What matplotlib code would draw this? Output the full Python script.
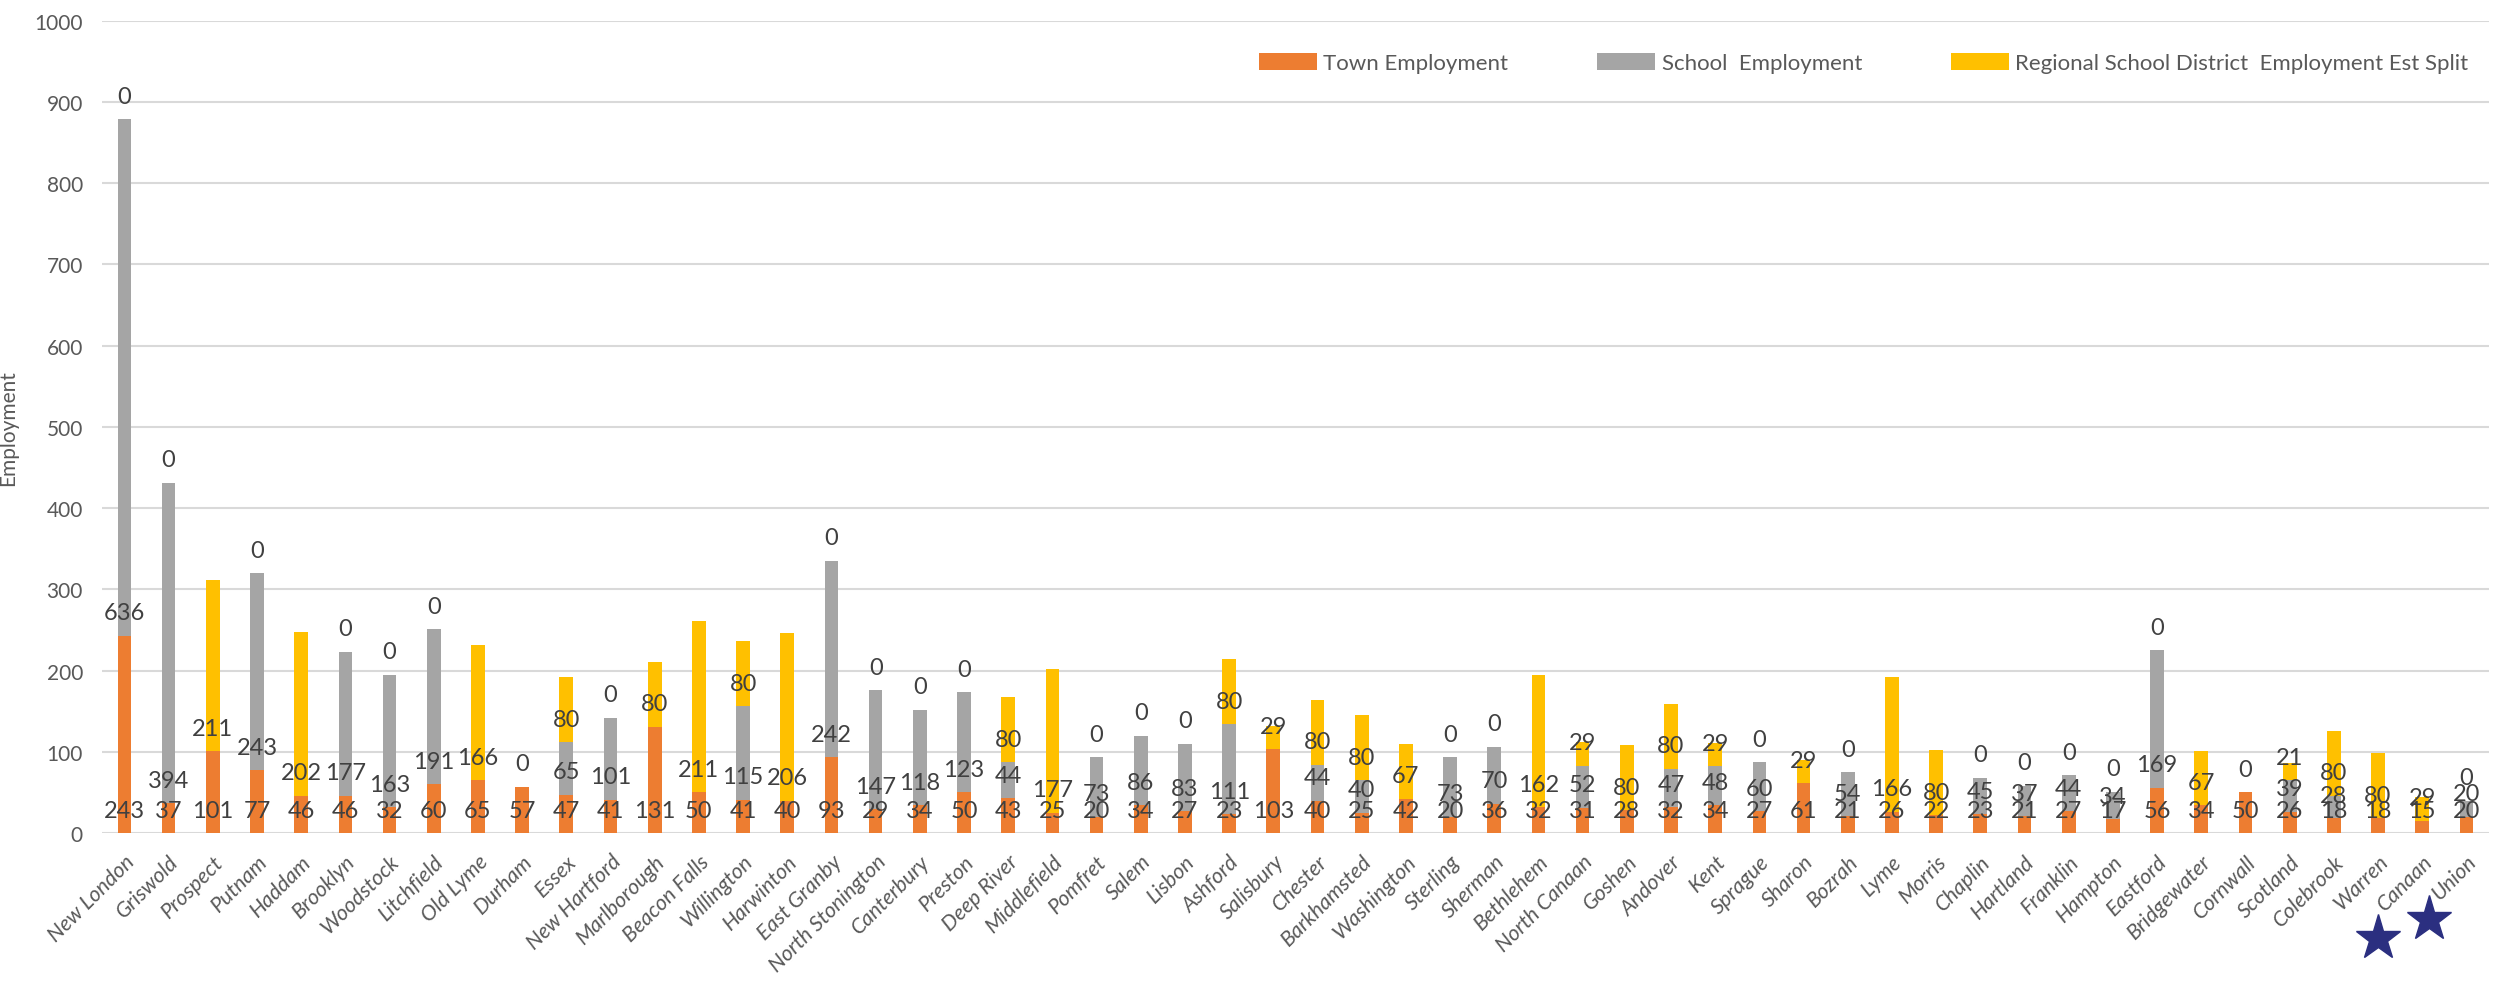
import numpy as np
import matplotlib.pyplot as plt
from matplotlib.transforms import blended_transform_factory

plt.rcParams['font.family'] = ['Lato', 'DejaVu Sans']

towns = ["New London", "Griswold", "Prospect", "Putnam", "Haddam", "Brooklyn",
         "Woodstock", "Litchfield", "Old Lyme", "Durham", "Essex", "New Hartford",
         "Marlborough", "Beacon Falls", "Willington", "Harwinton", "East Granby",
         "North Stonington", "Canterbury", "Preston", "Deep River", "Middlefield",
         "Pomfret", "Salem", "Lisbon", "Ashford", "Salisbury", "Chester",
         "Barkhamsted", "Washington", "Sterling", "Sherman", "Bethlehem",
         "North Canaan", "Goshen", "Andover", "Kent", "Sprague", "Sharon", "Bozrah",
         "Lyme", "Morris", "Chaplin", "Hartland", "Franklin", "Hampton", "Eastford",
         "Bridgewater", "Cornwall", "Scotland", "Colebrook", "Warren", "Canaan",
         "Union"]

town_emp = [243, 37, 101, 77, 46, 46, 32, 60, 65, 57, 47, 41, 131, 50, 41, 40, 93,
            29, 34, 50, 43, 25, 20, 34, 27, 23, 103, 40, 25, 42, 20, 36, 32, 31, 28,
            32, 34, 27, 61, 21, 26, 22, 23, 21, 27, 17, 56, 34, 50, 26, 18, 18, 15, 20]

# None = no school employment reported for that town
school_emp = [636, 394, None, 243, None, 177, 163, 191, None, None, 65, 101, None,
              None, 115, None, 242, 147, 118, 123, 44, None, 73, 86, 83, 111, None,
              44, 40, None, 73, 70, None, 52, None, 47, 48, 60, None, 54, None, None,
              45, 37, 44, 34, 169, None, None, 39, 28, None, None, 20]

regional_emp = [0, 0, 211, 0, 202, 0, 0, 0, 166, 0, 80, 0, 80, 211, 80, 206, 0, 0,
                0, 0, 80, 177, 0, 0, 0, 80, 29, 80, 80, 67, 0, 0, 162, 29, 80, 80,
                29, 0, 29, 0, 166, 80, 0, 0, 0, 0, 0, 67, 0, 21, 80, 80, 29, 0]

starred = ["Warren", "Canaan"]

ORANGE = "#ED7D31"
GRAY = "#A5A5A5"
YELLOW = "#FFC000"
TEXT = "#404040"
TICK = "#595959"
NARROW = ['Liberation Sans Narrow', 'Lato', 'DejaVu Sans']

x = np.arange(len(towns))
town = np.array(town_emp, dtype=float)
school = np.array([np.nan if v is None else v for v in school_emp], dtype=float)
school_h = np.nan_to_num(school)
regional = np.array(regional_emp, dtype=float)

fig = plt.figure(figsize=(24.96, 9.87), dpi=100)
ax = fig.add_axes([0.041, 0.155, 0.956, 0.823])

w = 0.31
ax.bar(x, town, w, color=ORANGE, label="Town Employment", zorder=2)
ax.bar(x, school_h, w, bottom=town, color=GRAY, label="School  Employment", zorder=2)
ax.bar(x, regional, w, bottom=town + school_h, color=YELLOW,
       label="Regional School District  Employment Est Split", zorder=2)


def base_label(xi, base, val):
    ax.annotate(f"{int(val)}", (xi, base), xytext=(0, 16.5), textcoords="offset points",
                ha="center", va="center", fontsize=17, color=TEXT, zorder=3,
                family=NARROW)


for i in range(len(towns)):
    base_label(x[i], 0, town[i])
    if not np.isnan(school[i]):
        base_label(x[i], town[i], school[i])
    base_label(x[i], town[i] + school_h[i], regional[i])

ax.set_xlim(-0.5, len(towns) - 0.5)
ax.set_ylim(0, 1000)
ax.set_yticks(range(0, 1001, 100))
ax.yaxis.grid(True, color="#D9D9D9", linewidth=1.5, zorder=0)
ax.set_axisbelow(True)
for s in ax.spines.values():
    s.set_visible(False)
ax.tick_params(axis="both", length=0, labelcolor=TICK)
ax.tick_params(axis="y", pad=14, labelsize=15)
ax.set_xticks(x)
ax.set_xticklabels(towns, rotation=45, ha="right", rotation_mode="anchor",
                   fontstyle="italic", fontsize=15.5, color=TICK)
ax.tick_params(axis="x", pad=13)
ax.set_ylabel("Employment", fontsize=15, color=TICK, labelpad=12)

# highlight marks under selected towns
trans = blended_transform_factory(ax.transData, ax.transAxes)
star_pos = {"Warren": (0.0, -0.129), "Canaan": (0.15, -0.106)}
for name in starred:
    i = towns.index(name)
    dx, yy = star_pos[name]
    ax.plot(x[i] + dx, yy, marker="*", markersize=34, color="#2B2F80",
            transform=trans, clip_on=False, zorder=5)

leg = ax.legend(loc="upper right", bbox_to_anchor=(1.0, 0.985), ncol=3, frameon=False,
                prop={'family': NARROW, 'size': 16}, handlelength=2.6,
                handleheight=0.8, columnspacing=4.0, handletextpad=0.3)
for t in leg.get_texts():
    t.set_color(TICK)

fig.savefig("out.png", dpi=100)
